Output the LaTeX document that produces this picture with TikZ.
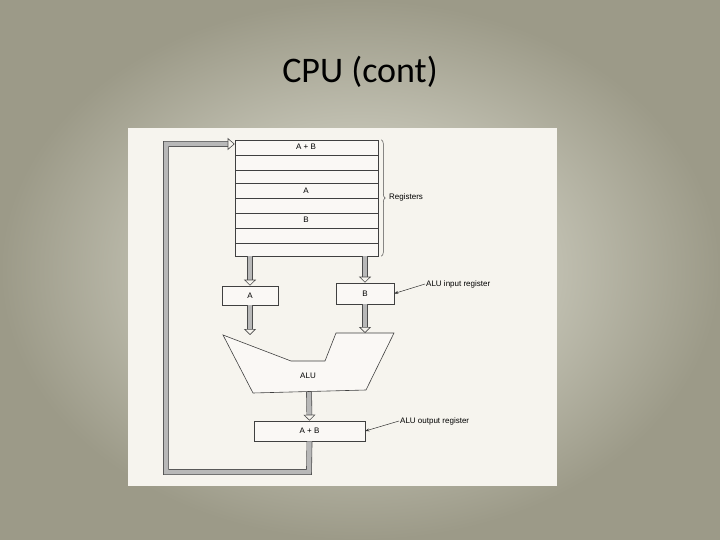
\documentclass[tikz,border=0pt]{standalone}
\usepackage{fontspec}
\setmainfont{Carlito}
\newfontfamily\helv{Liberation Sans}
\usetikzlibrary{arrows.meta,calc,decorations.pathreplacing}
\definecolor{bgin}{HTML}{E9E9DE}
\definecolor{bgout}{HTML}{9C9A88}
\definecolor{panel}{HTML}{F6F4EE}
\begin{document}
\begin{tikzpicture}[x=1pt,y=-1pt,
  box/.style={draw=black!75,line width=0.6pt,fill=panel!60!white,inner sep=0pt,font=\helv\fontsize{8}{9}\selectfont},
  fat/.style={draw=black!70,line width=0.6pt,double=black!28,double distance=4.5pt,-{Triangle[open,length=6pt,width=12pt]}},
  lbl/.style={font=\helv\fontsize{8}{9}\selectfont,anchor=west,inner sep=1pt},
  lead/.style={draw=black!80,line width=0.5pt,-{Stealth[length=4pt]}}]
\useasboundingbox (0,0) rectangle (720,540);
\shade[inner color=bgin, outer color=bgout] (0,0) rectangle (720,540);
\node[font=\fontsize{36}{40}\selectfont] (title) at (360,72) {CPU (cont)};
\fill[panel] (128,128) rectangle (557,486);
% registers
\node[box,minimum width=143pt,minimum height=116pt] (reg) at (306.5,198) {};
\foreach \yy in {155,170,183,198,213,228,243}
  \draw[black!75,line width=0.5pt] (235,\yy) -- (378,\yy);
\node[box,fill=none,draw=none] (rab) at (306,147) {A + B};
\node[box,fill=none,draw=none] (ra) at (306,191) {A};
\node[box,fill=none,draw=none] (rb) at (306,220) {B};
\draw[decorate,decoration={brace,amplitude=4pt},black!70,line width=0.5pt] (reg.north east)++(3,0) coordinate (b1) -- ($(reg.south east)+(3,0)$) coordinate (b2);
\node[lbl] (regl) at (388,197) {Registers};
% ALU input registers
\node[box,minimum width=56pt,minimum height=19pt] (A) at (250,295.5) {A};
\node[box,minimum width=58pt,minimum height=21pt] (B) at (365,293.5) {B};
% ALU
\draw[black!75,line width=0.6pt,fill=panel!60!white] (223,335) -- (291,361) -- (325,361) -- (336,333) -- (394,333) -- (366,390) -- (253,393) -- cycle;
\node[box,fill=none,draw=none] (alu) at (308,376) {ALU};
\coordinate (alua) at (250,335);
\coordinate (alub) at (365,333);
\coordinate (aluo) at (309,392);
% output
\node[box,minimum width=111pt,minimum height=20pt] (out) at (309.5,431) {A + B};
% fat arrows
\draw[fat] (reg.south -| A) -- (A.north);
\draw[fat] (reg.south -| B) -- (B.north);
\draw[fat] (A.south) -- (alua);
\draw[fat] (B.south) -- (alub);
\draw[fat] (aluo) -- (out.north);
\draw[fat,-{Triangle[open,length=7pt,width=12pt]}] (out.south) -- (309,472) -- (166,472) -- (166,144) -- (reg.west |- 0,144);
% labels
\node[lbl] (inl) at (425,284) {ALU input register};
\draw[lead] (inl.west) -- (B.east);
\node[lbl] (outl) at (399,421) {ALU output register};
\draw[lead] (outl.west) -- (out.east);
\end{tikzpicture}
\end{document}
